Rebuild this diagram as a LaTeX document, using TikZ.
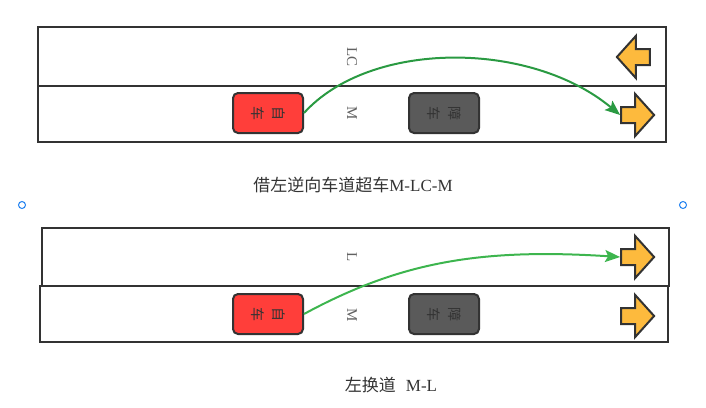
\documentclass[tikz,border=0pt]{standalone}
\usepackage{fontspec}
\setmainfont{Liberation Serif}
\newfontfamily\cjk{Noto Sans CJK SC}
\usetikzlibrary{shapes.arrows,arrows.meta}

\definecolor{edge}{HTML}{333333}
\definecolor{carred}{HTML}{FF3E3A}
\definecolor{cargrey}{HTML}{5A5A5A}
\definecolor{dirfill}{HTML}{FDBA3D}
\definecolor{pathA}{HTML}{2A9A42}
\definecolor{pathB}{HTML}{3DB54E}
\definecolor{handleblue}{HTML}{1E80F0}

\newcommand{\carlabel}[2]{\rotatebox{-90}{\shortstack{#1\\[5pt]#2}}}

\tikzset{
  lane/.style={draw=edge, line width=2.5pt},
  car/.style={draw=edge, line width=2pt, rounded corners=5pt, minimum width=70pt,
    minimum height=40pt, inner sep=0pt, text=edge, font=\cjk\fontsize{14}{14}\selectfont},
  dirarrow/.style={single arrow, draw=edge, fill=dirfill, line width=2pt, inner sep=7pt,
    minimum height=33pt, minimum width=40pt, single arrow head extend=13pt,
    single arrow tip angle=96},
  lanelabel/.style={rotate=-90, text=black!62, font=\fontsize{15}{15}\selectfont},
  caption/.style={text=edge, font=\fontsize{17}{19}\selectfont},
  move/.style={line width=2pt, -{Stealth[length=15pt,width=12pt,inset=3pt]}},
  handle/.style={circle, draw=handleblue, fill=white, line width=1pt, minimum size=7pt, inner sep=0pt}
}

\begin{document}
\begin{tikzpicture}[x=1pt,y=-1pt]
        \useasboundingbox (0,0) rectangle (706,407);
        % overtaking through the oncoming lane
        \draw[lane] (38,27) rectangle (666,86);
        \draw[lane] (38,86) rectangle (666,142);
        \node[lanelabel] (laneLC) at (352,57) {LC};
        \node[lanelabel] (laneM1) at (352,113) {M};
        \node[car, fill=carred] (ego1) at (268,113) {\carlabel{自}{车}};
        \node[car, fill=cargrey] (block1) at (444,113) {\carlabel{障}{车}};
        \node[dirarrow, shape border rotate=180] (dirLC) at (637,57) {};
        \node[dirarrow] (dirM1) at (634,115) {};
        \draw[move, pathA] (ego1.east) .. controls (370,40) and (530,40) .. (dirM1.west);
        \node[caption] (cap1) at (353,185) {{\cjk 借左逆向车道超车}M-LC-M};

        \node[handle] (hleft) at (22,205) {};
        \node[handle] (hright) at (683,205) {};

        % left lane change
        \draw[lane] (42,228) rectangle (669,286);
        \draw[lane] (40,286) rectangle (668,342);
        \node[lanelabel] (laneL) at (352,257) {L};
        \node[lanelabel] (laneM2) at (352,315) {M};
        \node[car, fill=carred] (ego2) at (268,314) {\carlabel{自}{车}};
        \node[car, fill=cargrey] (block2) at (444,314) {\carlabel{障}{车}};
        \node[dirarrow] (dirL) at (634,257) {};
        \node[dirarrow] (dirM2) at (634,316) {};
        \draw[move, pathB] (ego2.east) .. controls (400,262) and (480,248) .. (dirL.west);
        \node[caption] (cap2) at (391,385) {{\cjk 左换道}\hspace{10pt}M-L};
    \end{tikzpicture}
\end{document}
